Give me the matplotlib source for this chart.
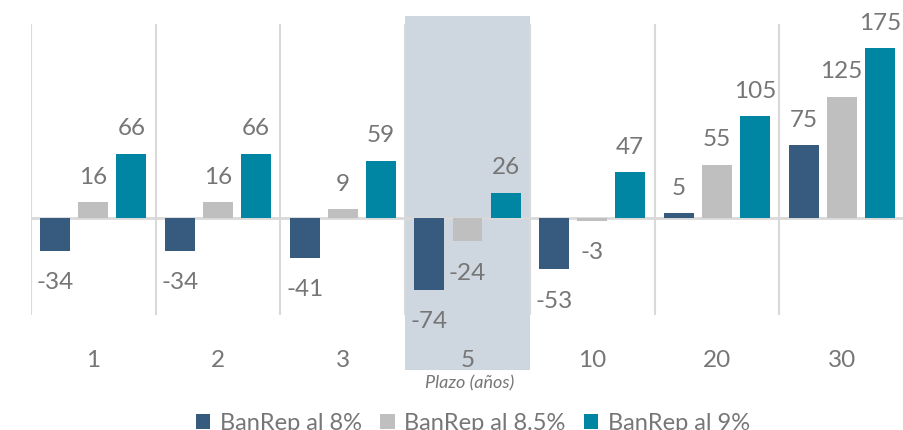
import matplotlib.pyplot as plt
from matplotlib.patches import Rectangle
import numpy as np

plt.rcParams['font.family'] = ['Lato', 'DejaVu Sans']

# data
plazos = ['1', '2', '3', '5', '10', '20', '30']
series_names = ['BanRep al 8%', 'BanRep al 8.5%', 'BanRep al 9%']
banrep_8 = [-34, -34, -41, -74, -53, 5, 75]
banrep_85 = [16, 16, 9, -24, -3, 55, 125]
banrep_9 = [66, 66, 59, 26, 47, 105, 175]

colors = ['#375B7E', '#BFBFBF', '#0086A2']
label_color = '#767676'
grid_color = '#D9D9D9'

fig = plt.figure(figsize=(9.04, 4.30), dpi=100)
ax = fig.add_axes([31 / 904, 1 - 315 / 430, 1 - 31 / 904, (315 - 24) / 430])

x = np.arange(len(plazos))
width = 0.24
step = 0.305

# highlight for 5 years
ax.add_patch(Rectangle((2.5, -157), 1.0, 365, facecolor='#CED6DF',
                       edgecolor='none', zorder=0, clip_on=False))

# vertical separators
for b in np.arange(-0.5, len(plazos), 1.0):
    ax.axvline(b, color=grid_color, lw=1.5, zorder=1)
ax.axhline(0, color=grid_color, lw=2, zorder=1)

for i, vals in enumerate([banrep_8, banrep_85, banrep_9]):
    pos = x + (i - 1) * step
    ax.bar(pos, vals, width, color=colors[i], label=series_names[i], zorder=2)
    for xp, v in zip(pos, vals):
        off = 18 if v >= 0 else -23
        ax.annotate(str(v), (xp, v), xytext=(0, off), textcoords='offset points',
                    ha='center', va='center', fontsize=17.5, color=label_color)

ax.set_xlim(-0.5, 6.5)
ax.set_ylim(-100, 200)
ax.set_yticks([])
ax.set_xticks(x)
ax.set_xticklabels(plazos, fontsize=17.5, color=label_color)
ax.tick_params(axis='x', length=0, pad=25)
for s in ax.spines.values():
    s.set_visible(False)

fig.text(469.5 / 904, 1 - 383 / 430, 'Plazo (años)', ha='center', va='center',
         fontsize=13, style='italic', color=label_color)

fig.legend(loc='center', bbox_to_anchor=(473 / 904, 1 - 423 / 430), ncol=3, frameon=False,
           fontsize=17, handlelength=0.6, handleheight=0.6, handletextpad=0.4,
           columnspacing=0.8, labelcolor=label_color)

fig.savefig('out.png', dpi=100)
